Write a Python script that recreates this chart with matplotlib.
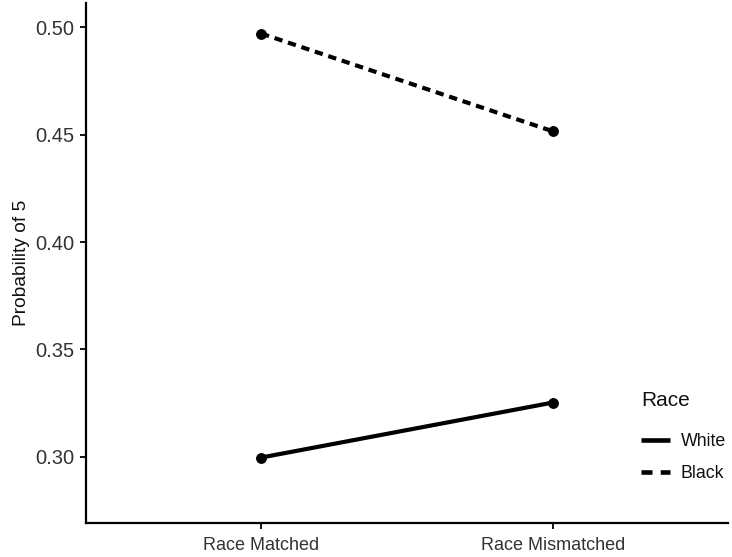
import matplotlib.pyplot as plt
from matplotlib.lines import Line2D

plt.rcParams['font.family'] = ['Liberation Sans', 'DejaVu Sans']

conditions = ["Race Matched", "Race Mismatched"]
white = [0.2997, 0.3253]
black = [0.497, 0.4515]
series_names = ["White", "Black"]

fig = plt.figure(figsize=(7.32, 5.57), dpi=100)
ax = fig.add_axes([0.1175, 0.0616, 0.877, 0.933])

xpos = list(range(1, len(conditions) + 1))
dash = (0, (2.0, 1.4))
ax.plot(xpos, white, color='black', lw=3.0, marker='o', markersize=6.8,
        solid_capstyle='butt')
ax.plot(xpos, black, color='black', lw=3.0, marker='o', markersize=6.8,
        linestyle=dash, dash_capstyle='butt')

ax.set_xlim(0.4, 2.6)
ax.set_ylim(0.2694, 0.5112)
ax.set_xticks(xpos)
ax.set_xticklabels(conditions)
ax.set_yticks([0.30, 0.35, 0.40, 0.45, 0.50])
ax.set_yticklabels(["0.30", "0.35", "0.40", "0.45", "0.50"])

for s in ['top', 'right']:
    ax.spines[s].set_visible(False)
for s in ['left', 'bottom']:
    ax.spines[s].set_linewidth(1.6)
ax.tick_params(axis='both', length=4.5, width=1.3, color='black',
               labelcolor='#333333')
ax.tick_params(axis='y', labelsize=14.5, pad=4)
ax.tick_params(axis='x', labelsize=13, pad=6)

ax.set_ylabel("Probability of 5", fontsize=13.8, labelpad=4, color='#111111')

# legend title drawn separately so the gap under it matches
fig.text(641 / 732, 1 - 400 / 557, "Race", fontsize=15, color='#111111',
         ha='left', va='center')
handles = [
    Line2D([], [], color='black', lw=3.3, solid_capstyle='butt'),
    Line2D([], [], color='black', lw=3.3, linestyle=(0, (2.4, 1.8)), dash_capstyle='butt'),
]
leg = fig.legend(handles, series_names, loc='upper left',
                 bbox_to_anchor=(641 / 732, 1 - 433 / 557), frameon=False,
                 fontsize=12.8, borderpad=0, borderaxespad=0,
                 handlelength=1.65, handletextpad=0.6, labelspacing=0.85)
for t in leg.get_texts():
    t.set_color('#111111')

fig.savefig("out.png", dpi=100)
